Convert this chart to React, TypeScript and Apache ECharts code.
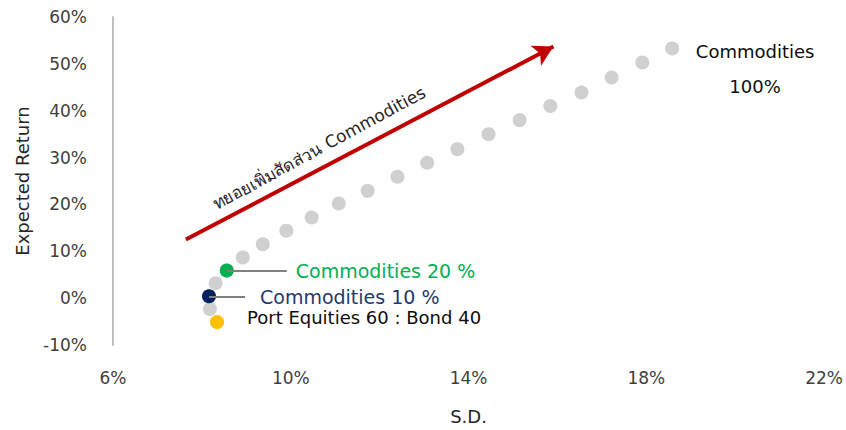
import React, { useEffect, useRef } from "react";
import * as echarts from "echarts";

// Efficient frontier: Port Equities 60 : Bond 40 with Commodities share 0% .. 100% in 5% steps
const commodityShare = [0, 5, 10, 15, 20, 25, 30, 35, 40, 45, 50, 55, 60, 65, 70, 75, 80, 85, 90, 95, 100];
const sdValues = [8.34, 8.18, 8.16, 8.31, 8.56, 8.92, 9.37, 9.9, 10.47, 11.08, 11.73, 12.4, 13.07, 13.75, 14.45, 15.15, 15.84, 16.54, 17.22, 17.91, 18.58];
const returnValues = [-5.1, -2.3, 0.4, 3.2, 5.9, 8.7, 11.5, 14.4, 17.2, 20.2, 22.9, 25.9, 28.9, 31.8, 35.0, 38.0, 41.0, 43.9, 47.1, 50.3, 53.3];

const xTicks = [6, 10, 14, 18, 22];
const yTicks = [-10, 0, 10, 20, 30, 40, 50, 60];

const arrowStart = [7.64, 12.5];
const arrowEnd = [15.91, 53.7];
const arrowText = "ทยอยเพิ่มสัดส่วน Commodities";

const FONT = "DejaVu Sans";

export default function App() {
  const ref = useRef<HTMLDivElement>(null);
  useEffect(() => {
    if (!ref.current) return;
    const chart = echarts.init(ref.current, null, { renderer: "svg" });
    const pts = sdValues.map((x, i) => [x, returnValues[i], commodityShare[i]]);
    const idx = (share: number) => commodityShare.indexOf(share);
    const p0 = pts[idx(0)];
    const p10 = pts[idx(10)];
    const p20 = pts[idx(20)];
    const last = pts.length - 1;

    const option: any = {
      animation: false,
      grid: { left: 113, right: 20, top: 17, bottom: 83 },
      xAxis: {
        type: "value",
        min: xTicks[0],
        max: xTicks[xTicks.length - 1],
        interval: 4,
        name: "S.D.",
        nameLocation: "middle",
        nameGap: 62,
        nameTextStyle: { fontFamily: FONT, fontSize: 18, color: "#262626" },
        axisLine: { show: false },
        axisTick: { show: false },
        splitLine: { show: false },
        axisLabel: {
          margin: 24,
          fontFamily: FONT,
          fontSize: 17,
          color: "#404040",
          formatter: (v: number) => v + "%",
        },
      },
      yAxis: {
        type: "value",
        min: yTicks[0],
        max: yTicks[yTicks.length - 1],
        interval: 10,
        name: "Expected Return",
        nameLocation: "middle",
        nameGap: 82,
        nameTextStyle: { fontFamily: FONT, fontSize: 18, color: "#262626" },
        axisLine: { show: true, lineStyle: { color: "#bfbfbf", width: 2 } },
        axisTick: { show: false },
        splitLine: { show: false },
        axisLabel: {
          margin: 26,
          fontFamily: FONT,
          fontSize: 17,
          color: "#404040",
          formatter: (v: number) => v + "%",
        },
      },
      series: [
        {
          type: "scatter",
          name: "arrow",
          data: [],
          silent: true,
          markLine: {
            silent: true,
            symbol: ["none", "arrow"],
            symbolSize: [17, 20],
            label: { show: false },
            lineStyle: { color: "#c00000", width: 4, type: "solid", opacity: 1 },
            data: [[{ coord: arrowStart }, { coord: arrowEnd }]],
          },
        },
        {
          type: "scatter",
          name: "frontier",
          symbolSize: 14,
          itemStyle: { color: "#d0d0d0", opacity: 1 },
          data: pts.map((p, i) =>
            i === last
              ? {
                  value: p,
                  label: {
                    show: true,
                    position: "right",
                    distance: 76,
                    align: "center",
                    verticalAlign: "middle",
                    offset: [0, 21],
                    lineHeight: 35,
                    fontFamily: FONT,
                    fontSize: 18,
                    color: "#0d0d0d",
                    formatter: "Commodities\n" + commodityShare[i] + "%",
                  },
                }
              : { value: p }
          ),
        },
        {
          type: "scatter",
          name: "port",
          symbolSize: 14,
          itemStyle: { color: "#ffc000", opacity: 1 },
          data: [p0],
          label: {
            show: true,
            position: "right",
            distance: 23,
            offset: [0, -5],
            fontFamily: FONT,
            fontSize: 18,
            color: "#0d0d0d",
            formatter: "Port Equities 60 : Bond 40",
          },
        },
        {
          type: "scatter",
          name: "c10",
          symbolSize: 14,
          itemStyle: { color: "#002060", opacity: 1 },
          data: [p10],
          z: 3,
          label: {
            show: true,
            position: "right",
            distance: 44,
            offset: [0, 1],
            fontFamily: FONT,
            fontSize: 19,
            color: "#1f3a70",
            formatter: "Commodities 10 %",
          },
          markLine: {
            silent: true,
            symbol: ["none", "none"],
            label: { show: false },
            lineStyle: { color: "#7f7f7f", width: 2, type: "solid", opacity: 1 },
            data: [[{ coord: [p10[0], p10[1]] }, { coord: [8.97, p10[1]] }]],
          },
        },
        {
          type: "scatter",
          name: "c20",
          symbolSize: 14,
          itemStyle: { color: "#00b050", opacity: 1 },
          data: [p20],
          z: 3,
          label: {
            show: true,
            position: "right",
            distance: 62,
            offset: [0, 1],
            fontFamily: FONT,
            fontSize: 19,
            color: "#00b050",
            formatter: "Commodities 20 %",
          },
          markLine: {
            silent: true,
            symbol: ["none", "none"],
            label: { show: false },
            lineStyle: { color: "#7f7f7f", width: 2, type: "solid", opacity: 1 },
            data: [[{ coord: [p20[0], p20[1]] }, { coord: [9.91, p20[1]] }]],
          },
        },
      ],
      graphic: [
        {
          type: "text",
          x: 319,
          y: 148,
          rotation: (28.5 * Math.PI) / 180,
          style: {
            text: arrowText,
            fontFamily: FONT,
            fontSize: 17,
            fill: "#262626",
            align: "center",
            verticalAlign: "middle",
          },
        },
      ],
    };
    chart.setOption(option);
    return () => chart.dispose();
  }, []);
  return (
    <div
      ref={ref}
      style={{ position: "fixed", left: 0, top: 0, width: 846, height: 430, background: "#fff" }}
    />
  );
}
